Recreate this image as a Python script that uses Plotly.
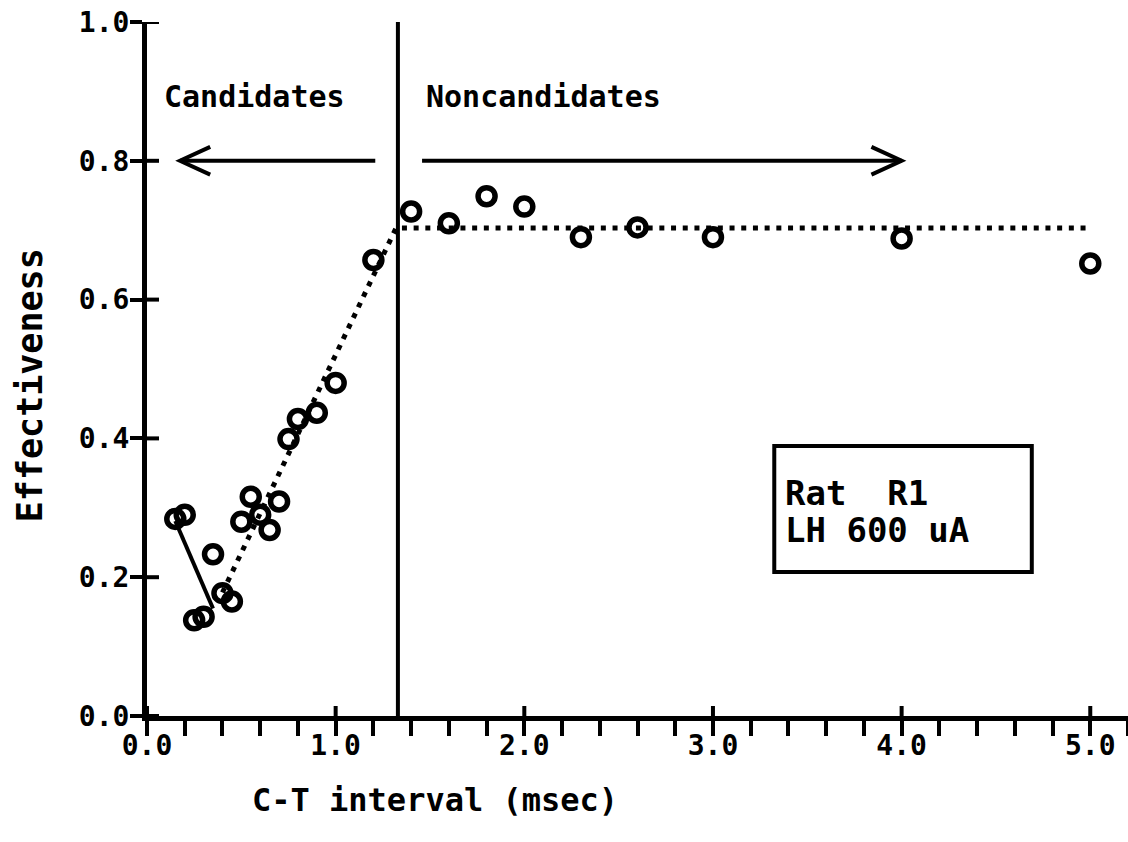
import plotly.graph_objects as go

# Conditioning-test interval (msec) and measured effectiveness
ct_interval = [0.15, 0.20, 0.25, 0.30, 0.35, 0.40, 0.45, 0.50, 0.55, 0.60, 0.65, 0.70,
               0.75, 0.80, 0.90, 1.00, 1.20, 1.40, 1.60, 1.80, 2.00, 2.30, 2.60, 3.00,
               4.00, 5.00]
effectiveness = [0.284, 0.290, 0.138, 0.143, 0.233, 0.177, 0.165, 0.280, 0.316, 0.290,
                 0.268, 0.309, 0.399, 0.428, 0.437, 0.480, 0.657, 0.727, 0.710, 0.749,
                 0.734, 0.690, 0.704, 0.690, 0.688, 0.652]

# Fitted segments: short early decline (solid) and rise-to-plateau (dotted)
early_fit_x = [0.15, 0.35]
early_fit_y = [0.281, 0.155]
plateau_fit_x = [0.40, 1.32, 5.00]
plateau_fit_y = [0.178, 0.703, 0.703]

# Boundary between candidate and noncandidate intervals
boundary_x = 1.33

x_ticks = [0, 1, 2, 3, 4, 5]
x_tick_text = ["0.0", "1.0", "2.0", "3.0", "4.0", "5.0"]
y_ticks = [0, 0.2, 0.4, 0.6, 0.8, 1.0]
y_tick_text = ["0.0", "0.2", "0.4", "0.6", "0.8", "1.0"]

X_RANGE = [0, 5.2]
Y_RANGE = [0, 1.0]
FONT = "DejaVu Sans Mono"
INK = "black"

fig = go.Figure()

fig.add_trace(go.Scatter(
    x=early_fit_x, y=early_fit_y, mode="lines",
    line=dict(color=INK, width=4), showlegend=False, hoverinfo="skip"))
fig.add_trace(go.Scatter(
    x=plateau_fit_x, y=plateau_fit_y, mode="lines",
    line=dict(color=INK, width=5, dash="5px,6.7px"), showlegend=False, hoverinfo="skip"))
fig.add_trace(go.Scatter(
    x=ct_interval, y=effectiveness, mode="markers",
    marker=dict(symbol="circle-open", size=17, color=INK, line=dict(width=5.5, color=INK)),
    cliponaxis=False, showlegend=False))

# inward halves of the major ticks, so they cross the axis lines
for xv in x_ticks:
    fig.add_shape(type="line", xref="x", yref="y", x0=xv, x1=xv,
                  ysizemode="pixel", yanchor=0, y0=0, y1=10,
                  line=dict(color=INK, width=4))
for yv in y_ticks:
    fig.add_shape(type="line", xref="x", yref="y", y0=yv, y1=yv,
                  xsizemode="pixel", xanchor=0, x0=0, x1=12,
                  line=dict(color=INK, width=4))

# vertical boundary line
fig.add_shape(type="line", x0=boundary_x, x1=boundary_x, y0=0, y1=1.0,
              line=dict(color=INK, width=4), layer="above")

# direction arrows at y = 0.8
arrow_y = 0.8
head_dx, head_dy = 0.16, 0.02
left_tail, left_tip = 1.21, 0.175
right_tail, right_tip = 1.458, 4.0
for tail, tip, sgn in [(left_tail, left_tip, 1), (right_tail, right_tip, -1)]:
    fig.add_shape(type="line", x0=tail, x1=tip, y0=arrow_y, y1=arrow_y,
                  line=dict(color=INK, width=4))
    fig.add_shape(type="path",
                  path=f"M {tip + sgn*head_dx} {arrow_y + head_dy} L {tip} {arrow_y} "
                       f"L {tip + sgn*head_dx} {arrow_y - head_dy}",
                  line=dict(color=INK, width=4))

label_font = dict(family=FONT, size=30, color=INK, weight="bold")
fig.add_annotation(x=0.08, y=0.892, text="Candidates", showarrow=False,
                   xanchor="left", yanchor="middle", font=label_font)
fig.add_annotation(x=1.47, y=0.892, text="Noncandidates", showarrow=False,
                   xanchor="left", yanchor="middle", font=label_font)

# subject / stimulation info box
fig.add_shape(type="rect", x0=3.325, x1=4.69, y0=0.2075, y1=0.389,
              line=dict(color=INK, width=4))
box_font = dict(family=FONT, size=34, color=INK, weight="bold")
fig.add_annotation(x=3.37, y=0.321, text="Rat\u00a0\u00a0R1", showarrow=False,
                   xanchor="left", yanchor="middle", font=box_font)
fig.add_annotation(x=3.37, y=0.268, text="LH 600 uA", showarrow=False,
                   xanchor="left", yanchor="middle", font=box_font)

# axis titles
title_font = dict(family=FONT, size=32, color=INK, weight="bold")
fig.add_annotation(xref="paper", yref="paper", x=0.2936, y=-0.121,
                   text="C-T interval (msec)", showarrow=False,
                   xanchor="center", yanchor="middle", font=title_font)
fig.add_annotation(xref="paper", yref="paper", x=-0.119, y=0.477,
                   text="Effectiveness", textangle=-90, showarrow=False,
                   xanchor="center", yanchor="middle", font=dict(title_font, size=35))

tick_font = dict(family=FONT, size=28, color=INK, weight="bold")
fig.update_layout(
    width=1128, height=842,
    margin=dict(l=147, r=0, t=22, b=126),
    paper_bgcolor="white", plot_bgcolor="white",
    xaxis=dict(range=X_RANGE, tickvals=x_ticks, ticktext=x_tick_text,
               ticks="outside", ticklen=15, tickwidth=4, tickcolor=INK,
               minor=dict(ticks="outside", ticklen=15, tickwidth=4, tickcolor=INK, dtick=0.2),
               showline=True, linewidth=5, linecolor=INK, ticklabelstandoff=-15,
               showgrid=False, zeroline=False, tickfont=tick_font, fixedrange=True),
    yaxis=dict(range=Y_RANGE, tickvals=y_ticks, ticktext=y_tick_text,
               ticks="outside", ticklen=12, tickwidth=4, tickcolor=INK,
               showline=True, linewidth=5, linecolor=INK, ticklabelstandoff=-5,
               showgrid=False, zeroline=False, tickfont=tick_font, fixedrange=True),
    showlegend=False,
)

fig.write_html("out.html")
